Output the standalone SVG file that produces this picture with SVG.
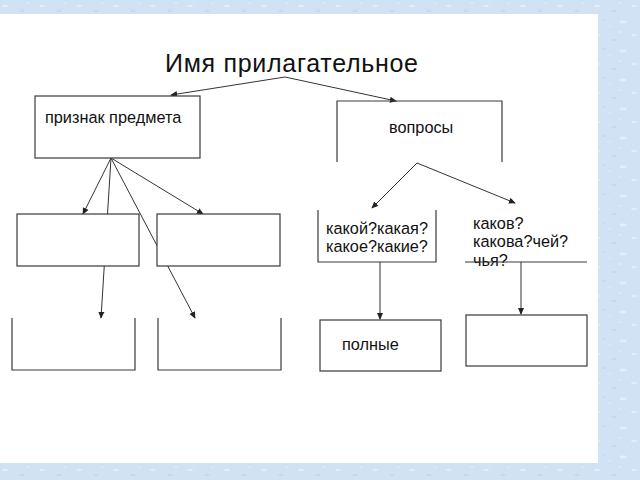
<svg xmlns="http://www.w3.org/2000/svg" width="640" height="480" viewBox="0 0 640 480">
<style>
.box{fill:#ffffff;stroke:#3a3a3a;stroke-width:1.2}
.open{fill:none;stroke:#3a3a3a;stroke-width:1.2}
.cn{fill:none;stroke:#333;stroke-width:1}
.t{font-family:"Liberation Sans",Arial,sans-serif;fill:#111;font-size:16.3px}
.title{font-family:"Liberation Sans",Arial,sans-serif;fill:#111;font-size:25px}
</style>
<defs>
<marker id="ah" viewBox="0 0 8 8" refX="7" refY="4" markerWidth="7" markerHeight="7" orient="auto" markerUnits="userSpaceOnUse">
<path d="M0,0.5 L8,4 L0,7.5 Z" fill="#222"/>
</marker>
<pattern id="tex" width="37" height="29" patternUnits="userSpaceOnUse">
<rect width="37" height="29" fill="#d0e2f4"/>
<ellipse cx="5" cy="6" rx="3" ry="1.2" fill="#e2edf9"/>
<ellipse cx="22" cy="11" rx="2.5" ry="1" fill="#c3d8ee"/>
<ellipse cx="31" cy="22" rx="3.5" ry="1.4" fill="#e4eefa"/>
<ellipse cx="12" cy="20" rx="2" ry="1" fill="#c6daef"/>
<ellipse cx="28" cy="3" rx="2" ry="0.9" fill="#dce9f7"/>
<ellipse cx="17" cy="26" rx="2.5" ry="1" fill="#dae8f6"/>
</pattern>
</defs>
<rect x="0" y="0" width="640" height="480" fill="url(#tex)"/>
<rect x="0" y="14" width="598" height="449" fill="#ffffff"/>

<g id="title"><text class="title" x="165" y="72" textLength="253">Имя прилагательное</text></g>

<g id="connectors">
<path class="cn" d="M285,77 L171,95" marker-end="url(#ah)"/>
<path class="cn" d="M285,77 L396,101" marker-end="url(#ah)"/>
<path class="cn" d="M111,158 L83,214" marker-end="url(#ah)"/>
<path class="cn" d="M111,158 L101,318" marker-end="url(#ah)"/>
<path class="cn" d="M111,158 L195,318" marker-end="url(#ah)"/>
<path class="cn" d="M111,158 L203,214" marker-end="url(#ah)"/>
<path class="cn" d="M417,163 L372,208" marker-end="url(#ah)"/>
<path class="cn" d="M417,163 L515,203" marker-end="url(#ah)"/>
<path class="cn" d="M380,262 L380,319" marker-end="url(#ah)"/>
<path class="cn" d="M521,262 L521,314" marker-end="url(#ah)"/>
</g>

<g id="priznak"><rect class="box" x="35" y="96" width="165" height="62"/><text class="t" x="45" y="123">признак предмета</text></g>
<g id="voprosy"><path class="open" d="M337,162 V101 H502 V162"/><text class="t" x="389" y="133">вопросы</text></g>
<g id="box1"><rect class="box" x="17" y="214" width="122" height="52"/></g>
<g id="box2"><rect class="box" x="157" y="214" width="123" height="52"/></g>
<g id="box3"><path class="open" d="M12,318 V370 H135 V318"/></g>
<g id="box4"><path class="open" d="M158,318 V370 H281 V318"/></g>
<g id="kakoy"><path class="open" d="M318,210 V262 H436 V210"/><text class="t" x="326" y="234">какой?какая?</text><text class="t" x="326" y="252">какое?какие?</text></g>
<g id="kakov"><text class="t" x="473" y="229">каков?</text><text class="t" x="473" y="247">какова?чей?</text><text class="t" x="473" y="266">чья?</text><path class="open" d="M465,262 H587"/></g>
<g id="polnye"><rect class="box" x="320" y="320" width="121" height="51"/><text class="t" x="342" y="350">полные</text></g>
<g id="box5"><rect class="box" x="466" y="315" width="121" height="51"/></g>
</svg>
